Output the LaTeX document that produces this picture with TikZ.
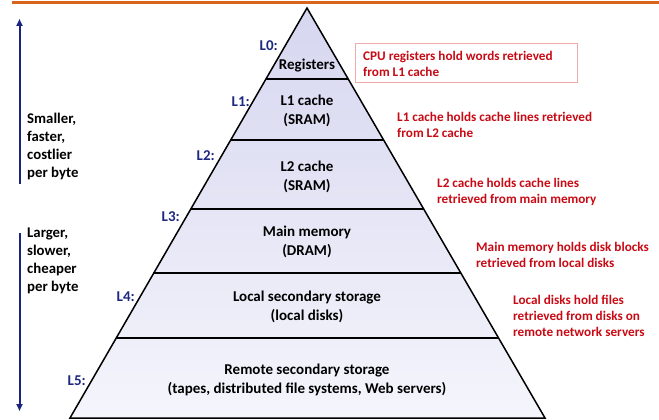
\documentclass[tikz,border=0pt]{standalone}
\usepackage{fontspec}
\setmainfont{Carlito}
\usetikzlibrary{arrows.meta}
\definecolor{topline}{RGB}{217,100,30}
\definecolor{navy}{RGB}{26,35,126}
\definecolor{lvl}{RGB}{30,40,130}
\definecolor{note}{RGB}{200,10,20}
\definecolor{notebox}{RGB}{240,170,170}
\definecolor{pyrtop}{RGB}{214,214,240}
\definecolor{pyrbot}{RGB}{245,245,252}
\tikzset{
  band/.style={font=\fontsize{15}{19}\selectfont\bfseries, align=center, inner sep=0pt},
  lvllabel/.style={font=\fontsize{15}{16}\selectfont\bfseries, text=lvl, anchor=east, inner sep=0pt},
  notetext/.style={font=\fontsize{13.2}{16}\selectfont\bfseries, text=note, align=left, anchor=west, inner sep=0pt},
  sidetext/.style={font=\fontsize{14.8}{18}\selectfont\bfseries, align=left, anchor=north west, inner sep=0pt},
  sidearrow/.style={draw=navy, line width=2pt, -{Triangle[length=7pt,width=6pt]}},
  divider/.style={line width=1.4pt},
}
\begin{document}
\begin{tikzpicture}[x=1pt,y=-1pt]
\useasboundingbox (0,0) rectangle (659,420);
% top rule
\draw[topline, line width=3pt] (12,2.5) -- (659,2.5);
% pyramid
\coordinate (apex) at (307,8);
\coordinate (bl) at (70,418);
\coordinate (br) at (545,418);
\shade[top color=pyrtop, bottom color=pyrbot] (apex) -- (br) -- (bl) -- cycle;
\foreach \y in {79,140,209,273,338}{
  \pgfmathsetmacro{\hw}{0.579268*(\y-8)}
  \draw[divider] ({307-\hw},\y) -- ({307+\hw},\y);
}
\draw[line width=1.5pt, line join=miter] (apex) -- (br) -- (bl) -- cycle;
% band texts
\node[band] (reg) at (307,66) {Registers};
\node[band] (l1) at (307,111) {L1 cache\\(SRAM)};
\node[band] (l2) at (307,176.5) {L2 cache\\(SRAM)};
\node[band] (mm) at (307,241.5) {Main memory\\(DRAM)};
\node[band] (lss) at (307,306.5) {Local secondary storage\\(local disks)};
\node[band] (rss) at (307,379.5) {Remote secondary storage\\(tapes, distributed file systems, Web servers)};
% level labels
\node[lvllabel] (L0) at (278,46) {L0:};
\node[lvllabel] (L1) at (250,102) {L1:};
\node[lvllabel] (L2) at (215,156) {L2:};
\node[lvllabel] (L3) at (180,217) {L3:};
\node[lvllabel] (L4) at (135,297) {L4:};
\node[lvllabel] (L5) at (86,381) {L5:};
% notes
\draw[notebox, line width=0.8pt] (355.5,43) rectangle (577,82);
\node[notetext] (n0) at (363,64) {CPU registers hold words retrieved\\from L1 cache};
\node[notetext] (n1) at (397,124.5) {L1 cache holds cache lines retrieved\\from L2 cache};
\node[notetext] (n2) at (437,191.5) {L2 cache holds cache lines\\retrieved from main memory};
\node[notetext] (n3) at (476,255) {Main memory holds disk blocks\\retrieved from local disks};
\node[notetext] (n4) at (513,315.5) {Local disks hold files\\retrieved from disks on\\remote network servers};
% side arrows
\coordinate (a1s) at (19.5,184);
\coordinate (a1e) at (19.5,19);
\coordinate (a2s) at (19.5,233);
\coordinate (a2e) at (19.5,411);
\draw[sidearrow] (a1s) -- (a1e);
\draw[sidearrow] (a2s) -- (a2e);
\node[sidetext] (s1) at (27,113) {Smaller,\\faster,\\costlier\\per byte};
\node[sidetext] (s2) at (27,228) {Larger,\\slower,\\cheaper\\per byte};
\end{tikzpicture}
\end{document}
